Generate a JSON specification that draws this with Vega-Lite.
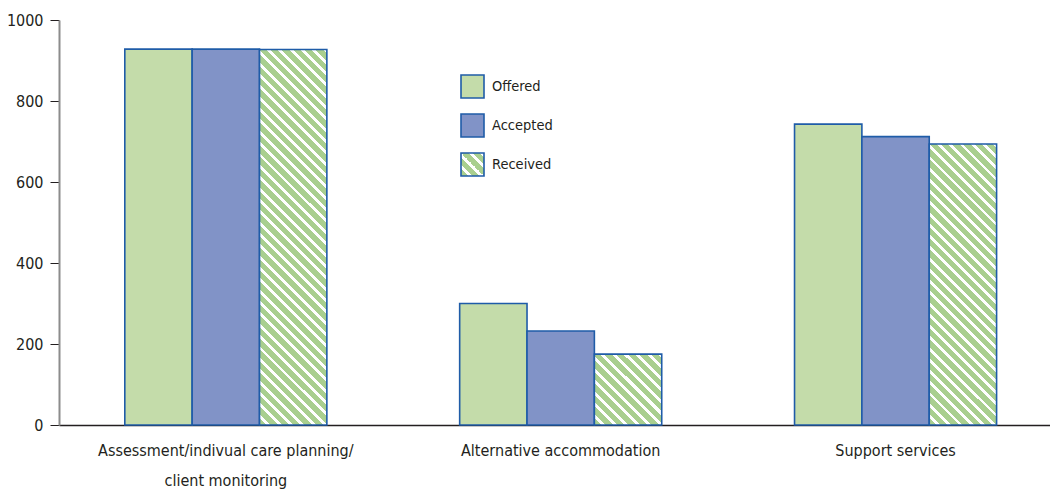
{
"$schema": "https://vega.github.io/schema/vega-lite/v6.json",
"autosize": {"type": "none"},
"padding": {"left": 59, "top": 20, "right": 0, "bottom": 65},
"width": 991,
"height": 405,
"background": "white",
"config": {"view": {"stroke": null}, "font": "DejaVu Sans Condensed, DejaVu Sans"},
"data": {"values": [
{"category": "Assessment/indivual care planning/client monitoring", "type": "Offered", "value": 928},
{"category": "Assessment/indivual care planning/client monitoring", "type": "Accepted", "value": 928},
{"category": "Assessment/indivual care planning/client monitoring", "type": "Received", "value": 927},
{"category": "Alternative accommodation", "type": "Offered", "value": 300},
{"category": "Alternative accommodation", "type": "Accepted", "value": 232},
{"category": "Alternative accommodation", "type": "Received", "value": 175},
{"category": "Support services", "type": "Offered", "value": 743},
{"category": "Support services", "type": "Accepted", "value": 712},
{"category": "Support services", "type": "Received", "value": 694}
]},
"mark": {"type": "bar", "stroke": "#1f5ca8", "strokeWidth": 1.6, "opacity": 1},
"encoding": {
"x": {"field": "category", "type": "nominal",
 "sort": ["Assessment/indivual care planning/client monitoring", "Alternative accommodation", "Support services"],
 "scale": {"paddingInner": 0.3966, "paddingOuter": 0.178, "align": 0.552},
 "axis": {"title": null, "labelAngle": 0, "ticks": false, "domainColor": "#231f20", "domainWidth": 1.5,
  "labelFontSize": 16, "labelColor": "#231f20", "labelPadding": 17, "labelLineHeight": 30, "labelLimit": 0,
  "labelExpr": "datum.value == 'Assessment/indivual care planning/client monitoring' ? ['Assessment/indivual care planning/', 'client monitoring'] : datum.label"}},
"xOffset": {"field": "type", "type": "nominal", "sort": ["Offered", "Accepted", "Received"], "scale": {"paddingInner": 0, "paddingOuter": 0}},
"y": {"field": "value", "type": "quantitative", "scale": {"domain": [0, 1000], "nice": false},
 "axis": {"title": null, "values": [0, 200, 400, 600, 800, 1000], "format": "d", "grid": false, "domainColor": "#8c8c8c", "domainWidth": 2,
  "tickColor": "#231f20", "tickSize": 9, "tickWidth": 1, "labelFontSize": 16, "labelColor": "#231f20", "labelPadding": 7}},
"fill": {"field": "type", "type": "nominal",
 "scale": {"domain": ["Offered", "Accepted", "Received"], "range": ["#c4dcaa", "#8193c7",
  {"expr": "{gradient: 'linear', x1: 0, y1: 1, x2: 1, y2: 0, stops: [{offset: 0, color: '#a9cf8f'}, {offset: 0.1625, color: '#a9cf8f'}, {offset: 0.1625, color: '#ffffff'}, {offset: 0.25, color: '#ffffff'}, {offset: 0.25, color: '#a9cf8f'}, {offset: 0.4125, color: '#a9cf8f'}, {offset: 0.4125, color: '#ffffff'}, {offset: 0.5, color: '#ffffff'}, {offset: 0.5, color: '#a9cf8f'}, {offset: 0.6625, color: '#a9cf8f'}, {offset: 0.6625, color: '#ffffff'}, {offset: 0.75, color: '#ffffff'}, {offset: 0.75, color: '#a9cf8f'}, {offset: 0.9125, color: '#a9cf8f'}, {offset: 0.9125, color: '#ffffff'}, {offset: 1, color: '#ffffff'}]}"}
  ]},
 "legend": {"title": null, "orient": "none", "legendX": 401, "legendY": 54, "padding": 0,
  "symbolType": "square", "symbolSize": 529, "symbolStrokeColor": "#1f5ca8", "symbolStrokeWidth": 1.6, "symbolOpacity": 1,
  "labelFontSize": 14.5, "labelColor": "#231f20", "labelOffset": 7, "rowPadding": 8},
 "condition": [
  {"test": "datum.type === 'Received' && datum.category === 'Assessment/indivual care planning/client monitoring'",
   "value": {"gradient": "linear", "x1": 0, "y1": 1, "x2": 0.2049, "y2": -0.1426, "stops": [
{"offset":0,"color":"#a9cf8f"},{"offset":0.01667,"color":"#a9cf8f"},{"offset":0.01667,"color":"#ffffff"},{"offset":0.02564,"color":"#ffffff"},
{"offset":0.02564,"color":"#a9cf8f"},{"offset":0.04231,"color":"#a9cf8f"},{"offset":0.04231,"color":"#ffffff"},{"offset":0.05128,"color":"#ffffff"},
{"offset":0.05128,"color":"#a9cf8f"},{"offset":0.06795,"color":"#a9cf8f"},{"offset":0.06795,"color":"#ffffff"},{"offset":0.07692,"color":"#ffffff"},
{"offset":0.07692,"color":"#a9cf8f"},{"offset":0.09359,"color":"#a9cf8f"},{"offset":0.09359,"color":"#ffffff"},{"offset":0.10256,"color":"#ffffff"},
{"offset":0.10256,"color":"#a9cf8f"},{"offset":0.11923,"color":"#a9cf8f"},{"offset":0.11923,"color":"#ffffff"},{"offset":0.12821,"color":"#ffffff"},
{"offset":0.12821,"color":"#a9cf8f"},{"offset":0.14487,"color":"#a9cf8f"},{"offset":0.14487,"color":"#ffffff"},{"offset":0.15385,"color":"#ffffff"},
{"offset":0.15385,"color":"#a9cf8f"},{"offset":0.17051,"color":"#a9cf8f"},{"offset":0.17051,"color":"#ffffff"},{"offset":0.17949,"color":"#ffffff"},
{"offset":0.17949,"color":"#a9cf8f"},{"offset":0.19615,"color":"#a9cf8f"},{"offset":0.19615,"color":"#ffffff"},{"offset":0.20513,"color":"#ffffff"},
{"offset":0.20513,"color":"#a9cf8f"},{"offset":0.2218,"color":"#a9cf8f"},{"offset":0.2218,"color":"#ffffff"},{"offset":0.23077,"color":"#ffffff"},
{"offset":0.23077,"color":"#a9cf8f"},{"offset":0.24744,"color":"#a9cf8f"},{"offset":0.24744,"color":"#ffffff"},{"offset":0.25641,"color":"#ffffff"},
{"offset":0.25641,"color":"#a9cf8f"},{"offset":0.27308,"color":"#a9cf8f"},{"offset":0.27308,"color":"#ffffff"},{"offset":0.28205,"color":"#ffffff"},
{"offset":0.28205,"color":"#a9cf8f"},{"offset":0.29872,"color":"#a9cf8f"},{"offset":0.29872,"color":"#ffffff"},{"offset":0.30769,"color":"#ffffff"},
{"offset":0.30769,"color":"#a9cf8f"},{"offset":0.32436,"color":"#a9cf8f"},{"offset":0.32436,"color":"#ffffff"},{"offset":0.33333,"color":"#ffffff"},
{"offset":0.33333,"color":"#a9cf8f"},{"offset":0.35,"color":"#a9cf8f"},{"offset":0.35,"color":"#ffffff"},{"offset":0.35897,"color":"#ffffff"},
{"offset":0.35897,"color":"#a9cf8f"},{"offset":0.37564,"color":"#a9cf8f"},{"offset":0.37564,"color":"#ffffff"},{"offset":0.38462,"color":"#ffffff"},
{"offset":0.38462,"color":"#a9cf8f"},{"offset":0.40128,"color":"#a9cf8f"},{"offset":0.40128,"color":"#ffffff"},{"offset":0.41026,"color":"#ffffff"},
{"offset":0.41026,"color":"#a9cf8f"},{"offset":0.42692,"color":"#a9cf8f"},{"offset":0.42692,"color":"#ffffff"},{"offset":0.4359,"color":"#ffffff"},
{"offset":0.4359,"color":"#a9cf8f"},{"offset":0.45256,"color":"#a9cf8f"},{"offset":0.45256,"color":"#ffffff"},{"offset":0.46154,"color":"#ffffff"},
{"offset":0.46154,"color":"#a9cf8f"},{"offset":0.4782,"color":"#a9cf8f"},{"offset":0.4782,"color":"#ffffff"},{"offset":0.48718,"color":"#ffffff"},
{"offset":0.48718,"color":"#a9cf8f"},{"offset":0.50385,"color":"#a9cf8f"},{"offset":0.50385,"color":"#ffffff"},{"offset":0.51282,"color":"#ffffff"},
{"offset":0.51282,"color":"#a9cf8f"},{"offset":0.52949,"color":"#a9cf8f"},{"offset":0.52949,"color":"#ffffff"},{"offset":0.53846,"color":"#ffffff"},
{"offset":0.53846,"color":"#a9cf8f"},{"offset":0.55513,"color":"#a9cf8f"},{"offset":0.55513,"color":"#ffffff"},{"offset":0.5641,"color":"#ffffff"},
{"offset":0.5641,"color":"#a9cf8f"},{"offset":0.58077,"color":"#a9cf8f"},{"offset":0.58077,"color":"#ffffff"},{"offset":0.58974,"color":"#ffffff"},
{"offset":0.58974,"color":"#a9cf8f"},{"offset":0.60641,"color":"#a9cf8f"},{"offset":0.60641,"color":"#ffffff"},{"offset":0.61538,"color":"#ffffff"},
{"offset":0.61538,"color":"#a9cf8f"},{"offset":0.63205,"color":"#a9cf8f"},{"offset":0.63205,"color":"#ffffff"},{"offset":0.64103,"color":"#ffffff"},
{"offset":0.64103,"color":"#a9cf8f"},{"offset":0.65769,"color":"#a9cf8f"},{"offset":0.65769,"color":"#ffffff"},{"offset":0.66667,"color":"#ffffff"},
{"offset":0.66667,"color":"#a9cf8f"},{"offset":0.68333,"color":"#a9cf8f"},{"offset":0.68333,"color":"#ffffff"},{"offset":0.69231,"color":"#ffffff"},
{"offset":0.69231,"color":"#a9cf8f"},{"offset":0.70897,"color":"#a9cf8f"},{"offset":0.70897,"color":"#ffffff"},{"offset":0.71795,"color":"#ffffff"},
{"offset":0.71795,"color":"#a9cf8f"},{"offset":0.73461,"color":"#a9cf8f"},{"offset":0.73461,"color":"#ffffff"},{"offset":0.74359,"color":"#ffffff"},
{"offset":0.74359,"color":"#a9cf8f"},{"offset":0.76026,"color":"#a9cf8f"},{"offset":0.76026,"color":"#ffffff"},{"offset":0.76923,"color":"#ffffff"},
{"offset":0.76923,"color":"#a9cf8f"},{"offset":0.7859,"color":"#a9cf8f"},{"offset":0.7859,"color":"#ffffff"},{"offset":0.79487,"color":"#ffffff"},
{"offset":0.79487,"color":"#a9cf8f"},{"offset":0.81154,"color":"#a9cf8f"},{"offset":0.81154,"color":"#ffffff"},{"offset":0.82051,"color":"#ffffff"},
{"offset":0.82051,"color":"#a9cf8f"},{"offset":0.83718,"color":"#a9cf8f"},{"offset":0.83718,"color":"#ffffff"},{"offset":0.84615,"color":"#ffffff"},
{"offset":0.84615,"color":"#a9cf8f"},{"offset":0.86282,"color":"#a9cf8f"},{"offset":0.86282,"color":"#ffffff"},{"offset":0.8718,"color":"#ffffff"},
{"offset":0.8718,"color":"#a9cf8f"},{"offset":0.88846,"color":"#a9cf8f"},{"offset":0.88846,"color":"#ffffff"},{"offset":0.89744,"color":"#ffffff"},
{"offset":0.89744,"color":"#a9cf8f"},{"offset":0.9141,"color":"#a9cf8f"},{"offset":0.9141,"color":"#ffffff"},{"offset":0.92308,"color":"#ffffff"},
{"offset":0.92308,"color":"#a9cf8f"},{"offset":0.93975,"color":"#a9cf8f"},{"offset":0.93975,"color":"#ffffff"},{"offset":0.94872,"color":"#ffffff"},
{"offset":0.94872,"color":"#a9cf8f"},{"offset":0.96539,"color":"#a9cf8f"},{"offset":0.96539,"color":"#ffffff"},{"offset":0.97436,"color":"#ffffff"},
{"offset":0.97436,"color":"#a9cf8f"},{"offset":0.99103,"color":"#a9cf8f"},{"offset":0.99103,"color":"#ffffff"},{"offset":1,"color":"#ffffff"}
   ]}},
  {"test": "datum.type === 'Received' && datum.category === 'Alternative accommodation'",
   "value": {"gradient": "linear", "x1": 0, "y1": 1, "x2": 0.9735, "y2": -0.0251, "stops": [
{"offset":0,"color":"#a9cf8f"},{"offset":0.05417,"color":"#a9cf8f"},{"offset":0.05417,"color":"#ffffff"},{"offset":0.08333,"color":"#ffffff"},
{"offset":0.08333,"color":"#a9cf8f"},{"offset":0.1375,"color":"#a9cf8f"},{"offset":0.1375,"color":"#ffffff"},{"offset":0.16667,"color":"#ffffff"},
{"offset":0.16667,"color":"#a9cf8f"},{"offset":0.22083,"color":"#a9cf8f"},{"offset":0.22083,"color":"#ffffff"},{"offset":0.25,"color":"#ffffff"},
{"offset":0.25,"color":"#a9cf8f"},{"offset":0.30417,"color":"#a9cf8f"},{"offset":0.30417,"color":"#ffffff"},{"offset":0.33333,"color":"#ffffff"},
{"offset":0.33333,"color":"#a9cf8f"},{"offset":0.3875,"color":"#a9cf8f"},{"offset":0.3875,"color":"#ffffff"},{"offset":0.41667,"color":"#ffffff"},
{"offset":0.41667,"color":"#a9cf8f"},{"offset":0.47083,"color":"#a9cf8f"},{"offset":0.47083,"color":"#ffffff"},{"offset":0.5,"color":"#ffffff"},
{"offset":0.5,"color":"#a9cf8f"},{"offset":0.55417,"color":"#a9cf8f"},{"offset":0.55417,"color":"#ffffff"},{"offset":0.58333,"color":"#ffffff"},
{"offset":0.58333,"color":"#a9cf8f"},{"offset":0.6375,"color":"#a9cf8f"},{"offset":0.6375,"color":"#ffffff"},{"offset":0.66667,"color":"#ffffff"},
{"offset":0.66667,"color":"#a9cf8f"},{"offset":0.72083,"color":"#a9cf8f"},{"offset":0.72083,"color":"#ffffff"},{"offset":0.75,"color":"#ffffff"},
{"offset":0.75,"color":"#a9cf8f"},{"offset":0.80417,"color":"#a9cf8f"},{"offset":0.80417,"color":"#ffffff"},{"offset":0.83333,"color":"#ffffff"},
{"offset":0.83333,"color":"#a9cf8f"},{"offset":0.8875,"color":"#a9cf8f"},{"offset":0.8875,"color":"#ffffff"},{"offset":0.91667,"color":"#ffffff"},
{"offset":0.91667,"color":"#a9cf8f"},{"offset":0.97083,"color":"#a9cf8f"},{"offset":0.97083,"color":"#ffffff"},{"offset":1,"color":"#ffffff"}
   ]}},
  {"test": "datum.type === 'Received' && datum.category === 'Support services'",
   "value": {"gradient": "linear", "x1": 0, "y1": 1, "x2": 0.2808, "y2": -0.1723, "stops": [
{"offset":0,"color":"#a9cf8f"},{"offset":0.02097,"color":"#a9cf8f"},{"offset":0.02097,"color":"#ffffff"},{"offset":0.03226,"color":"#ffffff"},
{"offset":0.03226,"color":"#a9cf8f"},{"offset":0.05323,"color":"#a9cf8f"},{"offset":0.05323,"color":"#ffffff"},{"offset":0.06452,"color":"#ffffff"},
{"offset":0.06452,"color":"#a9cf8f"},{"offset":0.08548,"color":"#a9cf8f"},{"offset":0.08548,"color":"#ffffff"},{"offset":0.09677,"color":"#ffffff"},
{"offset":0.09677,"color":"#a9cf8f"},{"offset":0.11774,"color":"#a9cf8f"},{"offset":0.11774,"color":"#ffffff"},{"offset":0.12903,"color":"#ffffff"},
{"offset":0.12903,"color":"#a9cf8f"},{"offset":0.15,"color":"#a9cf8f"},{"offset":0.15,"color":"#ffffff"},{"offset":0.16129,"color":"#ffffff"},
{"offset":0.16129,"color":"#a9cf8f"},{"offset":0.18226,"color":"#a9cf8f"},{"offset":0.18226,"color":"#ffffff"},{"offset":0.19355,"color":"#ffffff"},
{"offset":0.19355,"color":"#a9cf8f"},{"offset":0.21452,"color":"#a9cf8f"},{"offset":0.21452,"color":"#ffffff"},{"offset":0.22581,"color":"#ffffff"},
{"offset":0.22581,"color":"#a9cf8f"},{"offset":0.24677,"color":"#a9cf8f"},{"offset":0.24677,"color":"#ffffff"},{"offset":0.25806,"color":"#ffffff"},
{"offset":0.25806,"color":"#a9cf8f"},{"offset":0.27903,"color":"#a9cf8f"},{"offset":0.27903,"color":"#ffffff"},{"offset":0.29032,"color":"#ffffff"},
{"offset":0.29032,"color":"#a9cf8f"},{"offset":0.31129,"color":"#a9cf8f"},{"offset":0.31129,"color":"#ffffff"},{"offset":0.32258,"color":"#ffffff"},
{"offset":0.32258,"color":"#a9cf8f"},{"offset":0.34355,"color":"#a9cf8f"},{"offset":0.34355,"color":"#ffffff"},{"offset":0.35484,"color":"#ffffff"},
{"offset":0.35484,"color":"#a9cf8f"},{"offset":0.37581,"color":"#a9cf8f"},{"offset":0.37581,"color":"#ffffff"},{"offset":0.3871,"color":"#ffffff"},
{"offset":0.3871,"color":"#a9cf8f"},{"offset":0.40806,"color":"#a9cf8f"},{"offset":0.40806,"color":"#ffffff"},{"offset":0.41935,"color":"#ffffff"},
{"offset":0.41935,"color":"#a9cf8f"},{"offset":0.44032,"color":"#a9cf8f"},{"offset":0.44032,"color":"#ffffff"},{"offset":0.45161,"color":"#ffffff"},
{"offset":0.45161,"color":"#a9cf8f"},{"offset":0.47258,"color":"#a9cf8f"},{"offset":0.47258,"color":"#ffffff"},{"offset":0.48387,"color":"#ffffff"},
{"offset":0.48387,"color":"#a9cf8f"},{"offset":0.50484,"color":"#a9cf8f"},{"offset":0.50484,"color":"#ffffff"},{"offset":0.51613,"color":"#ffffff"},
{"offset":0.51613,"color":"#a9cf8f"},{"offset":0.5371,"color":"#a9cf8f"},{"offset":0.5371,"color":"#ffffff"},{"offset":0.54839,"color":"#ffffff"},
{"offset":0.54839,"color":"#a9cf8f"},{"offset":0.56935,"color":"#a9cf8f"},{"offset":0.56935,"color":"#ffffff"},{"offset":0.58065,"color":"#ffffff"},
{"offset":0.58065,"color":"#a9cf8f"},{"offset":0.60161,"color":"#a9cf8f"},{"offset":0.60161,"color":"#ffffff"},{"offset":0.6129,"color":"#ffffff"},
{"offset":0.6129,"color":"#a9cf8f"},{"offset":0.63387,"color":"#a9cf8f"},{"offset":0.63387,"color":"#ffffff"},{"offset":0.64516,"color":"#ffffff"},
{"offset":0.64516,"color":"#a9cf8f"},{"offset":0.66613,"color":"#a9cf8f"},{"offset":0.66613,"color":"#ffffff"},{"offset":0.67742,"color":"#ffffff"},
{"offset":0.67742,"color":"#a9cf8f"},{"offset":0.69839,"color":"#a9cf8f"},{"offset":0.69839,"color":"#ffffff"},{"offset":0.70968,"color":"#ffffff"},
{"offset":0.70968,"color":"#a9cf8f"},{"offset":0.73065,"color":"#a9cf8f"},{"offset":0.73065,"color":"#ffffff"},{"offset":0.74194,"color":"#ffffff"},
{"offset":0.74194,"color":"#a9cf8f"},{"offset":0.7629,"color":"#a9cf8f"},{"offset":0.7629,"color":"#ffffff"},{"offset":0.77419,"color":"#ffffff"},
{"offset":0.77419,"color":"#a9cf8f"},{"offset":0.79516,"color":"#a9cf8f"},{"offset":0.79516,"color":"#ffffff"},{"offset":0.80645,"color":"#ffffff"},
{"offset":0.80645,"color":"#a9cf8f"},{"offset":0.82742,"color":"#a9cf8f"},{"offset":0.82742,"color":"#ffffff"},{"offset":0.83871,"color":"#ffffff"},
{"offset":0.83871,"color":"#a9cf8f"},{"offset":0.85968,"color":"#a9cf8f"},{"offset":0.85968,"color":"#ffffff"},{"offset":0.87097,"color":"#ffffff"},
{"offset":0.87097,"color":"#a9cf8f"},{"offset":0.89194,"color":"#a9cf8f"},{"offset":0.89194,"color":"#ffffff"},{"offset":0.90323,"color":"#ffffff"},
{"offset":0.90323,"color":"#a9cf8f"},{"offset":0.92419,"color":"#a9cf8f"},{"offset":0.92419,"color":"#ffffff"},{"offset":0.93548,"color":"#ffffff"},
{"offset":0.93548,"color":"#a9cf8f"},{"offset":0.95645,"color":"#a9cf8f"},{"offset":0.95645,"color":"#ffffff"},{"offset":0.96774,"color":"#ffffff"},
{"offset":0.96774,"color":"#a9cf8f"},{"offset":0.98871,"color":"#a9cf8f"},{"offset":0.98871,"color":"#ffffff"},{"offset":1,"color":"#ffffff"}
   ]}}
 ]}
}
}
